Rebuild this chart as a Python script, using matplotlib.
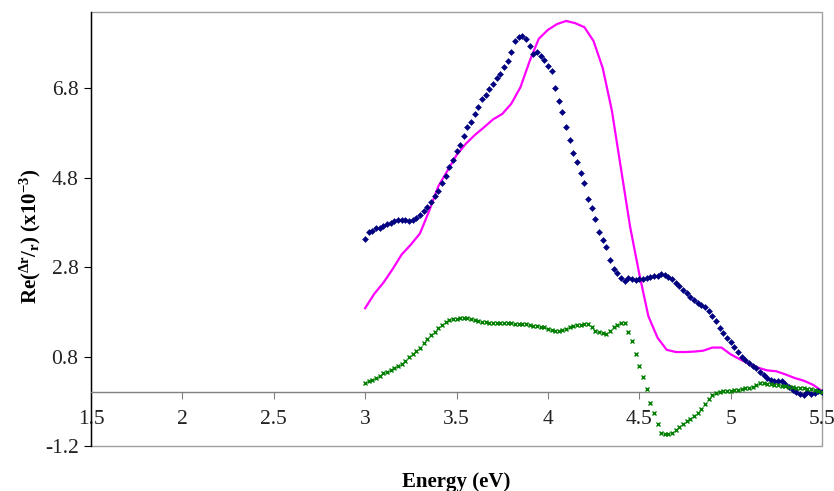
import numpy as np
import matplotlib
matplotlib.use("Agg")
import matplotlib.pyplot as plt
from matplotlib.patches import Rectangle

plt.rcParams['font.family'] = ['Liberation Serif', 'DejaVu Serif']
plt.rcParams['mathtext.fontset'] = 'custom'
plt.rcParams['mathtext.rm'] = 'Liberation Serif'
plt.rcParams['mathtext.bf'] = 'Liberation Serif:bold'
plt.rcParams['mathtext.it'] = 'Liberation Serif:italic'

# energy grid (eV) for the marker series, 0.02 eV steps 3.00 .. 5.50
energy = np.round(np.arange(3.0, 5.5001, 0.02), 2)

blue = [3.43, 3.58, 3.60, 3.67, 3.67, 3.72, 3.76, 3.78, 3.83, 3.85,
        3.85, 3.85, 3.83, 3.85, 3.90, 3.96, 4.05, 4.14, 4.25, 4.39,
        4.50, 4.68, 4.83, 5.03, 5.19, 5.39, 5.53, 5.73, 5.93, 6.04,
        6.22, 6.38, 6.55, 6.64, 6.78, 6.89, 7.02, 7.11, 7.27, 7.40,
        7.60, 7.85, 7.94, 7.96, 7.90, 7.74, 7.56, 7.60, 7.51, 7.43,
        7.29, 7.18, 6.80, 6.51, 6.26, 5.93, 5.64, 5.35, 5.15, 4.90,
        4.68, 4.32, 4.12, 3.87, 3.58, 3.40, 3.25, 2.96, 2.76, 2.67,
        2.56, 2.49, 2.55, 2.53, 2.51, 2.53, 2.53, 2.56, 2.58, 2.60,
        2.60, 2.64, 2.62, 2.58, 2.53, 2.44, 2.38, 2.29, 2.22, 2.13,
        2.06, 2.00, 1.95, 1.91, 1.82, 1.71, 1.59, 1.44, 1.33, 1.21,
        1.12, 1.01, 0.90, 0.79, 0.72, 0.65, 0.59, 0.55, 0.46, 0.39,
        0.32, 0.28, 0.26, 0.26, 0.26, 0.19, 0.12, 0.06, 0.01, -0.03,
        -0.05, 0.01, -0.03, -0.01, 0.04, 0.01]

green = [0.21, 0.25, 0.28, 0.32, 0.36, 0.43, 0.46, 0.50, 0.54, 0.59,
         0.64, 0.70, 0.79, 0.86, 0.92, 1.00, 1.10, 1.19, 1.28, 1.35,
         1.43, 1.50, 1.57, 1.62, 1.64, 1.64, 1.65, 1.65, 1.65, 1.64,
         1.62, 1.60, 1.58, 1.57, 1.56, 1.55, 1.55, 1.55, 1.55, 1.55,
         1.54, 1.53, 1.53, 1.53, 1.52, 1.50, 1.49, 1.48, 1.46, 1.45,
         1.42, 1.40, 1.38, 1.38, 1.40, 1.42, 1.45, 1.48, 1.50, 1.50,
         1.52, 1.52, 1.46, 1.38, 1.35, 1.33, 1.31, 1.38, 1.46, 1.50,
         1.55, 1.55, 1.35, 1.15, 0.85, 0.58, 0.35, 0.07, -0.24, -0.46,
         -0.70, -0.90, -0.93, -0.93, -0.90, -0.84, -0.78, -0.71, -0.65, -0.59,
         -0.53, -0.47, -0.37, -0.26, -0.15, -0.05, -0.01, 0.01, 0.02, 0.03,
         0.04, 0.05, 0.06, 0.07, 0.09, 0.10, 0.12, 0.16, 0.21, 0.21,
         0.19, 0.18, 0.17, 0.16, 0.15, 0.13, 0.12, 0.11, 0.10, 0.10,
         0.09, 0.08, 0.07, 0.06, 0.04, 0.01]

# line series, 0.05 eV steps
energy_line = np.round(np.arange(3.0, 5.5001, 0.05), 2)
magenta = [1.88, 2.20, 2.45, 2.75, 3.08, 3.30, 3.55, 4.05, 4.60, 4.95,
           5.30, 5.55, 5.75, 5.92, 6.10, 6.22, 6.45, 6.82, 7.40, 7.90,
           8.10, 8.23, 8.30, 8.25, 8.16, 7.85, 7.25, 6.30, 5.00, 3.70,
           2.65, 1.70, 1.22, 0.95, 0.90, 0.90, 0.91, 0.93, 1.00, 1.00,
           0.85, 0.74, 0.64, 0.55, 0.49, 0.47, 0.40, 0.32, 0.26, 0.17,
           0.03]

xticks = [1.5, 2, 2.5, 3, 3.5, 4, 4.5, 5, 5.5]
xticklabels = ["1.5", "2", "2.5", "3", "3.5", "4", "4.5", "5", "5.5"]
yticks = [-1.2, 0.8, 2.8, 4.8, 6.8]
yticklabels = ["-1.2", "0.8", "2.8", "4.8", "6.8"]

fig = plt.figure(figsize=(8.34, 4.91), dpi=100)
ax = fig.add_axes([91/834, 1-446/491, (822-91)/834, (446-12)/491])

ax.plot(energy_line, magenta, color='#FF00FF', lw=1.6, zorder=3)
ax.plot(energy, blue, linestyle='none', marker='D', markersize=3.0,
        mew=0.4, color='#000080', zorder=4)
ax.plot(energy, green, linestyle='none', marker='x', markersize=3.3,
        mew=1.0, color='#008000', zorder=4)

ax.set_xlim(1.5, 5.5)
ax.set_ylim(-1.2, 8.5)

ax.spines['bottom'].set_position(('data', 0))
ax.spines['bottom'].set_color('#808080')
ax.spines['bottom'].set_linewidth(1.0)
ax.spines['top'].set_visible(False)
ax.spines['right'].set_visible(False)
ax.spines['left'].set_color('black')
ax.spines['left'].set_linewidth(1.0)

# plot area border (grey)
ax.add_patch(Rectangle((0, 0), 1, 1, transform=ax.transAxes, fill=False,
                       edgecolor='#A0A0A0', lw=1.0, zorder=0, clip_on=False))

ax.set_xticks(xticks)
ax.set_xticklabels(xticklabels)
ax.set_yticks(yticks)
ax.set_yticklabels(yticklabels)
ax.tick_params(axis='x', direction='out', length=5, color='#808080',
               labelsize=15.5, labelcolor='#222222', pad=8)
ax.tick_params(axis='y', direction='out', length=5, color='black',
               labelsize=15.5, labelcolor='#222222', pad=4)

fig.text(30/834, 1-236/491,
         r'Re($^{\mathbf{\Delta r}}$/$_{\mathbf{r}}$) (x10$^{\mathbf{-3}}$)',
         rotation=90, ha='center', va='center', fontsize=15, fontweight='bold')
fig.text(456/834, 1-482/491, 'Energy (eV)', ha='center', va='center',
         fontsize=15, fontweight='bold')

fig.savefig('out.png', dpi=100)
